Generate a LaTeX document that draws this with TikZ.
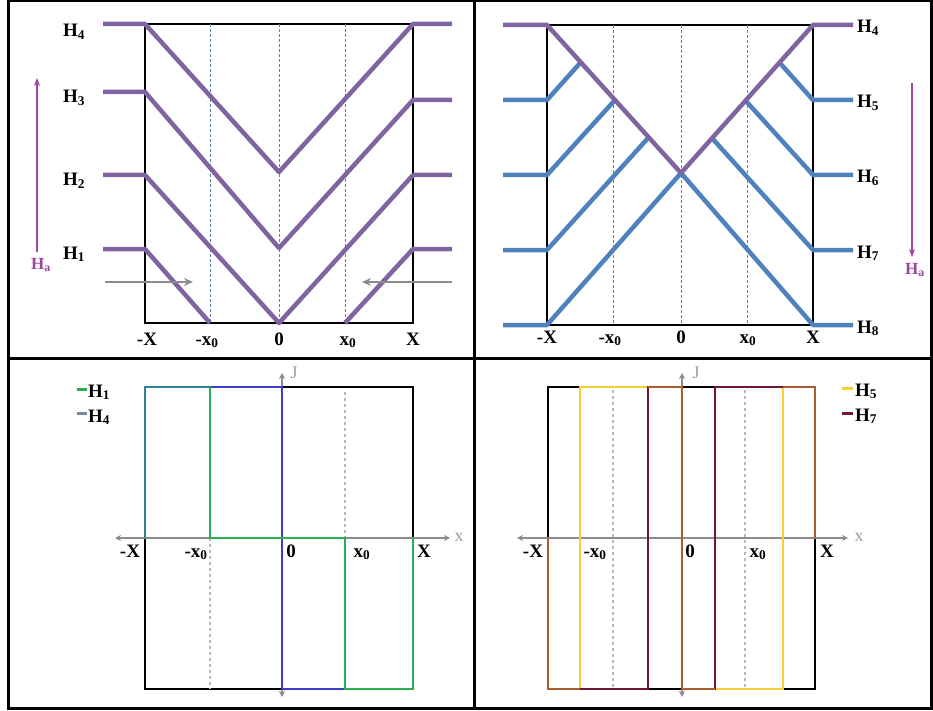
\documentclass[tikz,border=0pt]{standalone}
\usepackage{fontspec}
\setmainfont{Liberation Serif}
\usepackage{xcolor}
\usetikzlibrary{arrows.meta}
\definecolor{hpurple}{RGB}{128,100,162}
\definecolor{hblue}{RGB}{79,129,189}
\definecolor{hacol}{RGB}{155,70,160}
\definecolor{guidecol}{RGB}{95,125,165}
\definecolor{jgreen}{RGB}{40,175,80}
\definecolor{jblue}{RGB}{60,60,200}
\definecolor{jteal}{RGB}{50,130,150}
\definecolor{keyblue}{RGB}{120,135,165}
\definecolor{jyellow}{RGB}{250,205,60}
\definecolor{jred}{RGB}{110,25,45}
\definecolor{jmix}{RGB}{170,95,50}

\begin{document}
\begin{tikzpicture}[x=1pt,y=-1pt,
      every node/.style={font=\fontsize{19}{19}\selectfont\bfseries,inner sep=0pt},
      frame/.style={line width=3pt},
      box/.style={line width=2pt},
      guide/.style={draw=guidecol,densely dashed,line width=0.6pt},
      cut/.style={draw=gray!55,dashed,line width=1.2pt},
      hup/.style={draw=hpurple,line width=4.5pt,line join=round},
      hdown/.style={draw=hblue,line width=4.5pt,line join=round},
      push/.style={draw=gray!90,line width=2.5pt,-{Stealth[length=9pt,width=8pt]}},
      field/.style={draw=hacol,line width=2pt,-{Stealth[length=8pt,width=6pt]}},
      axis/.style={draw=gray!90,line width=1.8pt,{Stealth[length=6pt,width=6pt]}-{Stealth[length=6pt,width=6pt]}},
      jline/.style={line width=2.5pt},
      key/.style={line width=3pt},
      lbl/.style={anchor=base},
      hlbl/.style={anchor=base west},
      halbl/.style={text=hacol,font=\fontsize{17}{17}\selectfont\bfseries},
      axlbl/.style={text=gray!75,font=\fontsize{18}{18}\selectfont}]
      \useasboundingbox (0,0) rectangle (933,711);
      \draw[frame] (8,1) rectangle (931,708);
      \draw[frame] (474,1) -- (474,708);
      \draw[frame] (8,358) -- (931,358);

      % increasing field
      \draw[box] (145,24) rectangle (413,323);
      \draw[guide] (210,24) -- (210,323);
      \draw[guide] (279,24) -- (279,323);
      \draw[guide] (345,24) -- (345,323);
      \draw[hup] (103,24) -- (145,24) -- (279,172) -- (413,24) -- (452,24);
      \draw[hup] (103,92) -- (145,92) -- (279,248) -- (413,100) -- (452,100);
      \draw[hup] (103,175) -- (145,175) -- (279,323) -- (413,175) -- (452,175);
      \draw[hup] (103,249) -- (145,249) -- (210,323);
      \draw[hup] (345,323) -- (413,249) -- (452,249);
      \node[hlbl] (tlh4) at (63,37) {H\textsubscript{4}};
      \node[hlbl] (tlh3) at (63,103) {H\textsubscript{3}};
      \node[hlbl] (tlh2) at (63,186) {H\textsubscript{2}};
      \node[hlbl] (tlh1) at (63,259) {H\textsubscript{1}};
      \node[lbl] (tlmX) at (147,345) {-X};
      \node[lbl] (tlmx) at (207,345) {-x\textsubscript{0}};
      \node[lbl] (tlz) at (279,345) {0};
      \node[lbl] (tlpx) at (348,345) {x\textsubscript{0}};
      \node[lbl] (tlpX) at (413,345) {X};
      \coordinate (tlla) at (105,282);
      \coordinate (tllb) at (193,282);
      \coordinate (tlra) at (452,282);
      \coordinate (tlrb) at (362,282);
      \draw[push] (tlla) -- (tllb);
      \draw[push] (tlra) -- (tlrb);
      \coordinate (tlfa) at (37,252);
      \coordinate (tlfb) at (37,78);
      \draw[field] (tlfa) -- (tlfb);
      \node[halbl] (tlha) at (41,265) {H\textsubscript{a}};

      % decreasing field
      \draw[box] (547,25) rectangle (813,325);
      \draw[guide] (613,25) -- (613,325);
      \draw[guide] (681,25) -- (681,325);
      \draw[guide] (747,25) -- (747,325);
      \draw[hdown] (503,100) -- (547,100) -- (581,62);
      \draw[hdown] (503,175) -- (547,175) -- (615,100);
      \draw[hdown] (503,250) -- (547,250) -- (649,137);
      \draw[hdown] (853,100) -- (813,100) -- (779,62);
      \draw[hdown] (853,175) -- (813,175) -- (745,100);
      \draw[hdown] (853,250) -- (813,250) -- (711,137);
      \draw[hdown] (503,325) -- (547,325) -- (681,173) -- (813,325) -- (853,325);
      \draw[hup] (503,25) -- (547,25) -- (681,173) -- (813,25) -- (853,25);
      \node[hlbl] (trh4) at (857,33) {H\textsubscript{4}};
      \node[hlbl] (trh5) at (857,108) {H\textsubscript{5}};
      \node[hlbl] (trh6) at (857,183) {H\textsubscript{6}};
      \node[hlbl] (trh7) at (857,258) {H\textsubscript{7}};
      \node[hlbl] (trh8) at (857,333) {H\textsubscript{8}};
      \node[lbl] (trmX) at (547,343) {-X};
      \node[lbl] (trmx) at (610,343) {-x\textsubscript{0}};
      \node[lbl] (trz) at (681,343) {0};
      \node[lbl] (trpx) at (748,343) {x\textsubscript{0}};
      \node[lbl] (trpX) at (813,343) {X};
      \coordinate (trfa) at (912,83);
      \coordinate (trfb) at (912,257);
      \draw[field] (trfa) -- (trfb);
      \node[halbl] (trha) at (915,270) {H\textsubscript{a}};

      % current density H1, H4
      \draw[box] (145,387) rectangle (413,689);
      \draw[cut] (345,392) -- (345,538);
      \draw[cut] (210,538) -- (210,689);
      \coordinate (blxa) at (115,538);
      \coordinate (blxb) at (450,538);
      \coordinate (blja) at (282,697);
      \coordinate (bljb) at (282,373);
      \draw[axis] (blxa) -- (blxb);
      \draw[axis] (blja) -- (bljb);
      \draw[jline,jblue] (145,538) -- (145,387) -- (282,387) -- (282,689) -- (413,689) -- (413,538);
      \draw[jline,jgreen] (145,538) -- (145,387) -- (210,387) -- (210,538) -- (345,538) -- (345,689) -- (413,689) -- (413,538);
      \draw[jline,jteal] (145,538) -- (145,387) -- (210,387);
      \node[axlbl] (blx) at (459,537) {x};
      \node[axlbl] (blj) at (294,373) {J};
      \node[lbl] (blmX) at (130,557) {-X};
      \node[lbl] (blmx) at (196,557) {-x\textsubscript{0}};
      \node[lbl] (blz) at (291,557) {0};
      \node[lbl] (blpx) at (362,557) {x\textsubscript{0}};
      \node[lbl] (blpX) at (424,557) {X};
      \draw[key,jgreen] (77,389) -- (87,389);
      \draw[key,keyblue] (77,413) -- (87,413);
      \node[hlbl] (blk1) at (88,397) {H\textsubscript{1}};
      \node[hlbl] (blk4) at (88,422) {H\textsubscript{4}};

      % current density H5, H7
      \draw[box] (548,387) rectangle (815,689);
      \draw[cut] (613,390) -- (613,689);
      \draw[cut] (745,390) -- (745,689);
      \coordinate (brxa) at (517,538);
      \coordinate (brxb) at (848,538);
      \coordinate (brja) at (682,697);
      \coordinate (brjb) at (682,373);
      \draw[axis] (brxa) -- (brxb);
      \draw[axis] (brja) -- (brjb);
      \draw[jline,jyellow] (548,538) -- (548,689) -- (580,689) -- (580,387) -- (682,387) -- (682,689) -- (783,689) -- (783,387) -- (815,387) -- (815,538);
      \draw[jline,jred] (548,538) -- (548,689) -- (648,689) -- (648,387) -- (682,387) -- (682,689) -- (715,689) -- (715,387) -- (815,387) -- (815,538);
      \draw[jline,jmix] (548,538) -- (548,689) -- (580,689);
      \draw[jline,jmix] (648,387) -- (682,387) -- (682,689) -- (715,689);
      \draw[jline,jmix] (783,387) -- (815,387) -- (815,538);
      \node[axlbl] (brx) at (859,537) {x};
      \node[axlbl] (brj) at (696,373) {J};
      \node[lbl] (brmX) at (533,557) {-X};
      \node[lbl] (brmx) at (595,557) {-x\textsubscript{0}};
      \node[lbl] (brz) at (690,557) {0};
      \node[lbl] (brpx) at (758,557) {x\textsubscript{0}};
      \node[lbl] (brpX) at (827,557) {X};
      \draw[key,jyellow] (842,388) -- (853,388);
      \draw[key,jred] (842,413) -- (853,413);
      \node[hlbl] (brk5) at (855,396) {H\textsubscript{5}};
      \node[hlbl] (brk7) at (855,421) {H\textsubscript{7}};
    \end{tikzpicture}
\end{document}
